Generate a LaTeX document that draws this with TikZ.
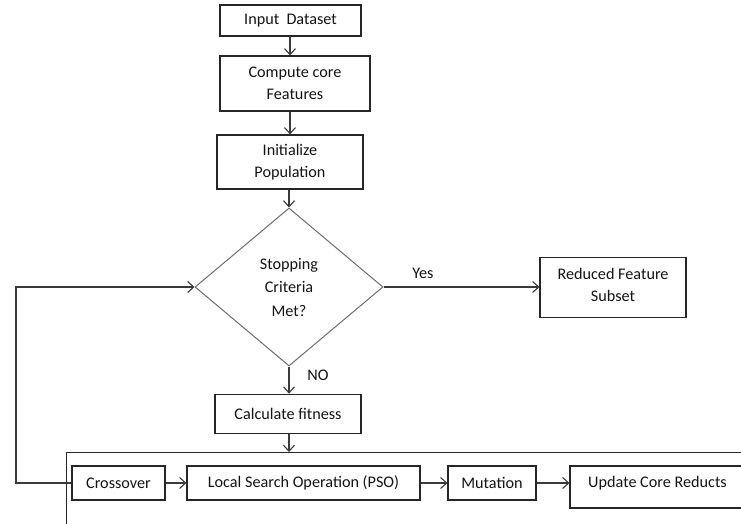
\documentclass[tikz,border=0pt]{standalone}
\usepackage{fontspec}
\setmainfont{Carlito}
\usetikzlibrary{shapes.geometric,arrows.meta}
\definecolor{boxline}{HTML}{262626}
\definecolor{dialine}{HTML}{6E6E6E}
\definecolor{arrline}{HTML}{3A3A3A}
\definecolor{txt}{HTML}{141414}
\tikzset{
  stepbox/.style={draw=boxline, line width=1.2pt, rectangle, inner sep=0pt, align=center, text=txt},
  decision/.style={draw=dialine, line width=1pt, diamond, inner sep=0pt, aspect=1.19, align=center, text=txt,
    minimum width=188pt, minimum height=158pt, font=\fontsize{16.2}{23.5}\selectfont},
  arr/.style={draw=arrline, line width=1.1pt, -{Straight Barb[length=6pt,width=11pt]}},
  lbl/.style={text=txt, inner sep=0pt}
}
\begin{document}
\begin{tikzpicture}[x=1pt,y=-1pt, font=\fontsize{16.2}{22}\selectfont]
\useasboundingbox (0,0) rectangle (741,524);
\clip (0,0) rectangle (741,524);
\fill[white] (0,0) rectangle (741,524);

\node[stepbox, minimum width=141pt, minimum height=31pt] (input) at (290.5,20.5) {Input\ \ Dataset};
\node[stepbox, minimum width=150pt, minimum height=55pt] (compute) at (295,83.5) {Compute core\\Features};
\node[stepbox, minimum width=146pt, minimum height=54pt] (init) at (290,162) {Initialize\\Population};
\node[decision] (dia) at (289,287) {Stopping\\Criteria\\Met?};
\node[stepbox, minimum width=146pt, minimum height=60pt, text depth=6pt] (reduced) at (613,287.5) {Reduced Feature\\Subset};
\node[stepbox, minimum width=146pt, minimum height=39.5pt] (calc) at (288,414) {Calculate fitness};

% container of the operators (runs past the picture's right and bottom edges)
\node[draw=boxline, line width=1.2pt, rectangle, inner sep=0pt, minimum width=720pt, minimum height=120pt, anchor=north west] (group) at (66,452) {};

\node[stepbox, minimum width=93pt, minimum height=34pt] (cross) at (118.5,483) {Crossover};
\node[stepbox, minimum width=233pt, minimum height=34pt] (lso) at (303.5,483) {Local Search Operation (PSO)};
\node[stepbox, minimum width=88pt, minimum height=34pt] (mut) at (492,483) {Mutation};
\node[stepbox, minimum width=175pt, minimum height=42pt, text height=18pt, text depth=17pt] (upd) at (657.5,487) {Update Core Reducts};

\node[lbl] (yes) at (423,273) {Yes};
\node[lbl] (no) at (318,375) {NO};

\coordinate (ax) at (290,0);
\draw[arr] (input.south -| ax) -- (compute.north -| ax);
\draw[arr] (compute.south -| ax) -- (init.north -| ax);
\draw[arr] (init.south -| dia.north) -- (dia.north);
\draw[arr] (dia.east) -- (reduced.west |- dia.east);
\draw[arr] (dia.south) -- (calc.north -| dia.south);
\draw[arr] (calc.south -| dia.south) -- (group.north -| dia.south);

\draw[arr] (cross.east) -- (lso.west);
\draw[arr] (lso.east) -- (mut.west);
\draw[arr] (mut.east) -- (mut.east -| upd.west);

\coordinate (lc) at (16,0);
\draw[arr] (cross.west) -- (cross.west -| lc) -- (lc |- dia.west) -- (dia.west);
\end{tikzpicture}
\end{document}
